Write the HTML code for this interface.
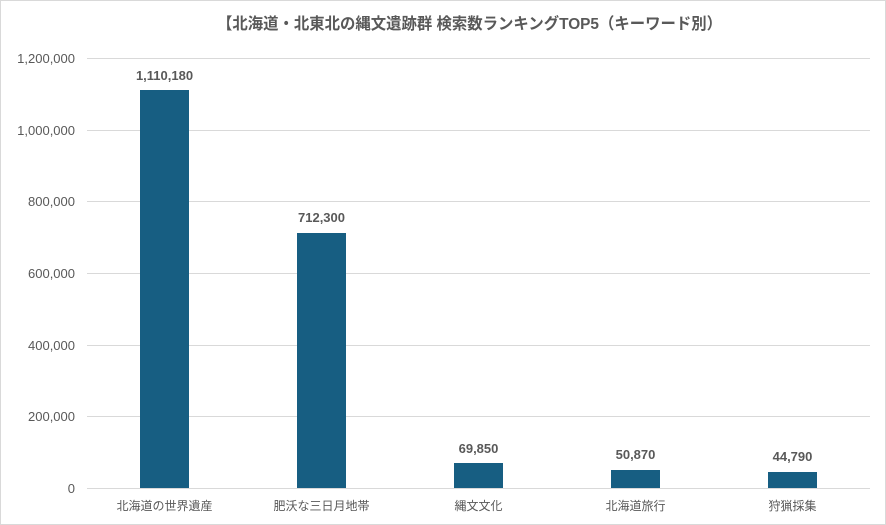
<!DOCTYPE html>
<html><head><meta charset="utf-8"><style>
html,body{margin:0;padding:0;background:#fff}
svg{display:block}
text{font-family:"Liberation Sans","Noto Sans CJK JP",sans-serif;fill:#595959}
</style></head><body>
<svg width="886" height="525" viewBox="0 0 886 525">
<rect x="0.5" y="0.5" width="885" height="524" fill="#fff" stroke="#d9d9d9"/>
<text x="217" y="29" font-size="16" font-weight="bold" textLength="505" lengthAdjust="spacingAndGlyphs">【北海道・北東北の縄文遺跡群 検索数ランキングTOP5（キーワード別）</text>
<g stroke="#d9d9d9" stroke-width="1">
<line x1="87" x2="870" y1="58.5" y2="58.5"/>
<line x1="87" x2="870" y1="130.5" y2="130.5"/>
<line x1="87" x2="870" y1="201.5" y2="201.5"/>
<line x1="87" x2="870" y1="273.5" y2="273.5"/>
<line x1="87" x2="870" y1="345.5" y2="345.5"/>
<line x1="87" x2="870" y1="416.5" y2="416.5"/>
<line x1="87" x2="870" y1="488.5" y2="488.5"/>
</g>
<g font-size="13" text-anchor="end">
<text x="75" y="63">1,200,000</text>
<text x="75" y="135">1,000,000</text>
<text x="75" y="206">800,000</text>
<text x="75" y="278">600,000</text>
<text x="75" y="350">400,000</text>
<text x="75" y="421">200,000</text>
<text x="75" y="493">0</text>
</g>
<g fill="#175e82">
<rect x="140" y="90" width="49" height="398"/>
<rect x="297" y="233" width="49" height="255"/>
<rect x="454" y="463" width="49" height="25"/>
<rect x="611" y="470" width="49" height="18"/>
<rect x="768" y="472" width="49" height="16"/>
</g>
<g font-size="13" font-weight="bold" text-anchor="middle" fill="#404040">
<text x="164.5" y="80">1,110,180</text>
<text x="321.5" y="222">712,300</text>
<text x="478.5" y="453">69,850</text>
<text x="635.5" y="459">50,870</text>
<text x="792.5" y="461">44,790</text>
</g>
<g font-size="12" text-anchor="middle">
<text x="164.5" y="510">北海道の世界遺産</text>
<text x="321.5" y="510">肥沃な三日月地帯</text>
<text x="478.5" y="510">縄文文化</text>
<text x="635.5" y="510">北海道旅行</text>
<text x="792.5" y="510">狩猟採集</text>
</g>
</svg>
</body></html>
